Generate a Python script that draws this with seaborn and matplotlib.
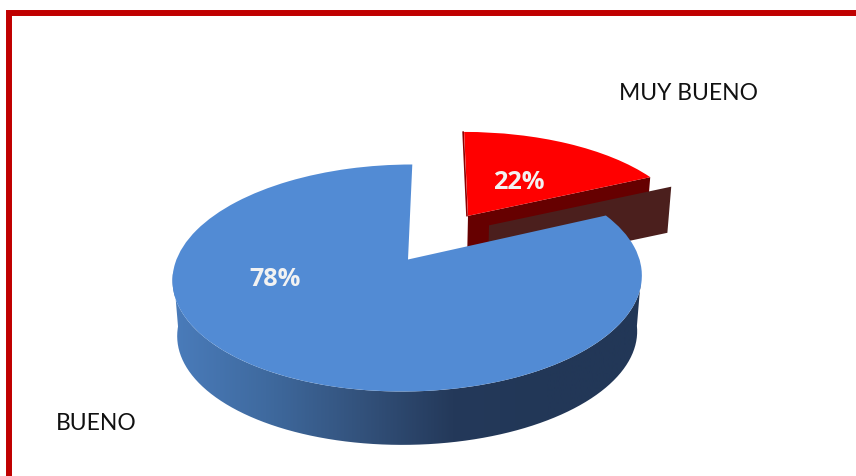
import numpy as np
import seaborn as sns
import matplotlib.pyplot as plt
from matplotlib.colors import LinearSegmentedColormap
from matplotlib.patches import PathPatch, Polygon
from matplotlib.path import Path
from matplotlib.transforms import Transform

# ==========================================
# Data
# ==========================================

categories = ["BUENO", "MUY BUENO"]
percent_labels = ["78%", "22%"]
# share of the circle as drawn in the picture (the printed labels say 78 / 22)
drawn_shares = [82, 18]

top_color = "#528bd4"
red_color = "#ff0000"
dark_red = "#660000"
brown = "#4b1f1d"
border_color = "#c00000"
side_colors = ["#4a7cbb", "#3f6a9f", "#33527c", "#24395a", "#223757", "#223757"]

sns.set_theme(style="white")
plt.rcParams["font.family"] = ["Lato", "DejaVu Sans"]


# ==========================================
# Tilted view of the unit-circle pie
# ==========================================

def tilt(xy, depth=0.0):
    x, y = xy[:, 0], xy[:, 1]
    den = 1 + 0.163 * y
    scale = 1 - 0.02 * depth
    px = 408 + scale * (231.5 * x + 5 * y) / den
    py = 260.5 + 56 * depth - scale * 110.5 * y / den
    return np.column_stack([px, py])


class TiltTransform(Transform):
    input_dims = 2
    output_dims = 2
    has_inverse = False

    def transform_non_affine(self, values):
        return tilt(np.asarray(values, dtype=float))


def wall(p0, p1, depth=1.0):
    # side face hanging below the edge p0-p1 of the top surface
    ends = np.array([p0, p1])
    return np.vstack([tilt(ends), tilt(ends, depth)[::-1]])


# ==========================================
# Figure
# ==========================================

fig = plt.figure(figsize=(8.56, 4.77), dpi=100)
ax = fig.add_axes([0, 0, 1, 1])

wedges, _ = ax.pie(
    drawn_shares,
    colors=[top_color, red_color],
    explode=[0, 0.5],
    startangle=90,
    radius=1,
)
ax.set_aspect("auto")
ax.set_xlim(0, 856)
ax.set_ylim(477, 0)
ax.axis("off")

for w in wedges:
    w.set_transform(TiltTransform() + ax.transData)
    w.set_linewidth(0)
    w.set_zorder(5)

blue, red = wedges

# blue outer side with left-to-right shading
t = np.radians(np.linspace(blue.theta1, blue.theta2, 300))
rim = np.column_stack([np.cos(t), np.sin(t)])
rim = rim[tilt(rim)[:, 1] > 270]
side_outline = np.vstack([tilt(rim), tilt(rim, 1.0)[::-1]])
side_patch = PathPatch(Path(side_outline), transform=ax.transData, fc="none", ec="none")
ax.add_patch(side_patch)

side_cmap = LinearSegmentedColormap.from_list("side", side_colors)
img = ax.imshow(
    np.linspace(0, 1, 256)[None, :],
    cmap=side_cmap,
    extent=(172, 641, 477, 0),
    aspect="auto",
    zorder=2,
)
img.set_clip_path(side_patch)
ax.set_xlim(0, 856)
ax.set_ylim(477, 0)

# walls of the pulled-out red slice
apex = np.array(red.center)
a1, a2 = np.radians(red.theta1), np.radians(red.theta2)
rim_right = apex + np.array([np.cos(a1), np.sin(a1)])
rim_top = apex + np.array([np.cos(a2), np.sin(a2)])

ax.add_patch(Polygon(wall(apex, rim_right), fc=dark_red, ec="none", zorder=1))

brown_wall = wall(apex, rim_right, 0.8) + np.array([21, 9.5])
ax.add_patch(Polygon(brown_wall, fc=brown, ec="none", zorder=1.5))

sliver = tilt(np.array([apex, rim_top])) + np.array([-1, 0])
ax.plot(sliver[:, 0], sliver[:, 1], color="#8b0000", lw=1.2, zorder=1)

# ==========================================
# Text
# ==========================================

ax.text(275.5, 280, percent_labels[0], color="#f2f2f2", fontsize=18.2,
        family="Open Sans", fontweight="bold", ha="center", va="center", zorder=6)
ax.text(518.5, 183, percent_labels[1], color="#f2f2f2", fontsize=18.2,
        family="Open Sans", fontweight="bold", ha="center", va="center", zorder=6)
ax.text(96, 424, categories[0], color="#111111", fontsize=16.5,
        ha="center", va="center", zorder=6)
ax.text(688.5, 93, categories[1], color="#111111", fontsize=16.5,
        ha="center", va="center", zorder=6)

# chart area border, only top and left show
ax.plot([9, 9, 856], [477, 14, 14], color=border_color, lw=4.3,
        solid_joinstyle="miter", zorder=7)

plt.savefig("out.png", dpi=100)
plt.close()
